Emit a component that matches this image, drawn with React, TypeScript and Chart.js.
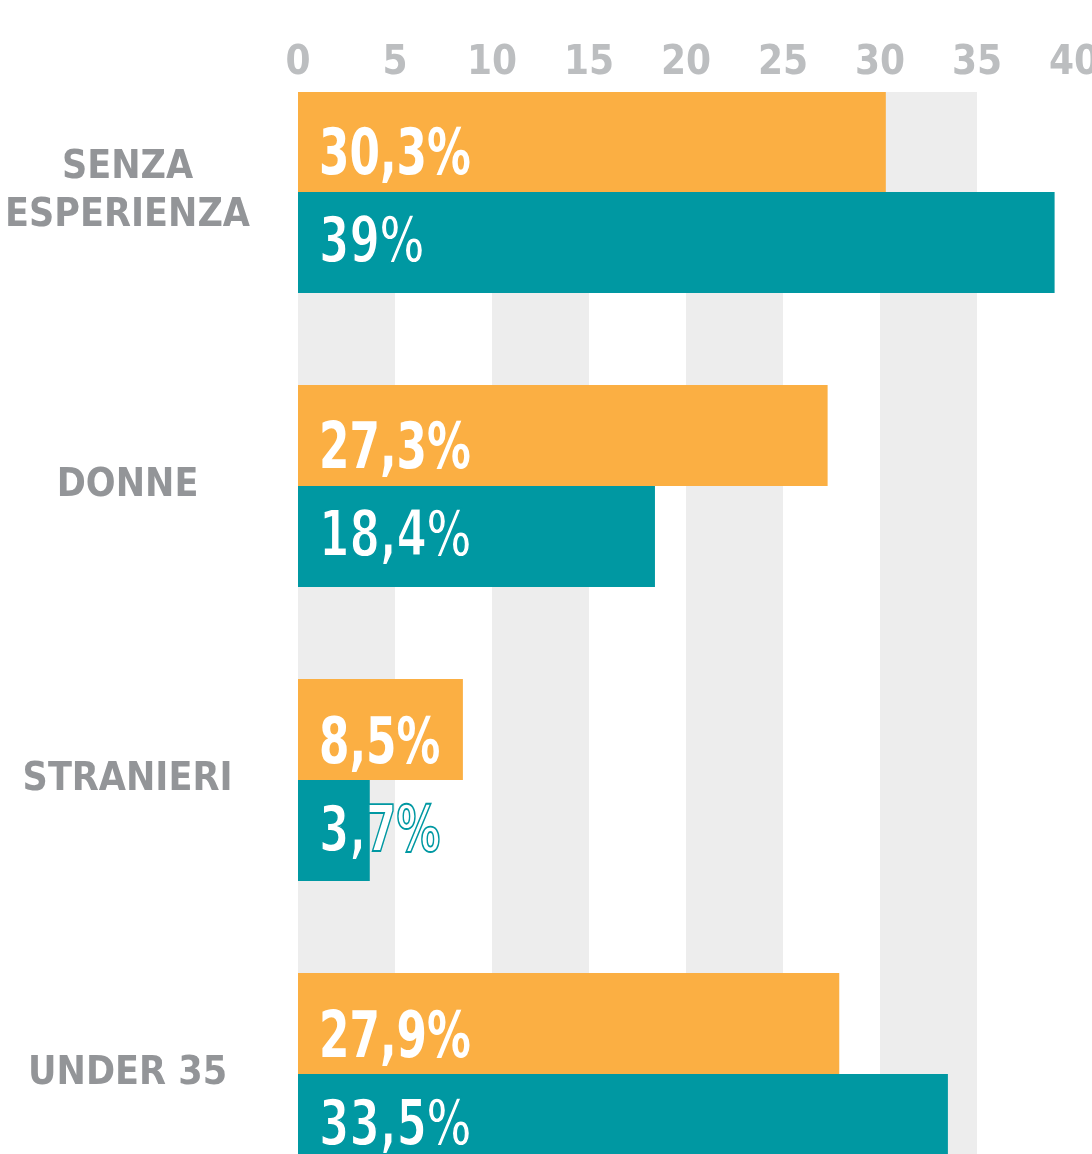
import React, { useEffect, useRef } from "react";
import { Chart, registerables } from "chart.js";
Chart.register(...registerables);

const categories: (string | string[])[] = [["SENZA", "ESPERIENZA"], "DONNE", "STRANIERI", "UNDER 35"];
const seriesOrange = [30.3, 27.3, 8.5, 27.9];
const seriesTeal = [39, 18.4, 3.7, 33.5];
const xMin = 0;
const xMax = 40;
const xStep = 5;
const bandStarts = [0, 10, 20, 30];
const bandWidth = 5;

const ORANGE = "#FBAF43";
const TEAL = "#0098A2";
const BAND = "#EDEDED";
const FONT = '"DejaVu Sans Condensed", "Roboto", sans-serif';

const fmt = (v: number) => String(v).replace(".", ",") + "%";

const bandsPlugin = {
  id: "bands",
  beforeDatasetsDraw(chart: any) {
    const { ctx, chartArea, scales } = chart;
    const x = scales.x;
    ctx.save();
    ctx.fillStyle = BAND;
    bandStarts.forEach((s) => {
      const x0 = x.getPixelForValue(s);
      const x1 = x.getPixelForValue(s + bandWidth);
      ctx.fillRect(x0, chartArea.top, x1 - x0, chartArea.bottom - chartArea.top);
    });
    ctx.restore();
  },
};

const labelsPlugin = {
  id: "valueLabels",
  afterDatasetsDraw(chart: any) {
    const { ctx } = chart;
    chart.data.datasets.forEach((ds: any, di: number) => {
      const meta = chart.getDatasetMeta(di);
      meta.data.forEach((bar: any, i: number) => {
        const v = ds.data[i].x;
        const text = fmt(v);
        const { base, y } = bar.getProps(["base", "y"], true);
        ctx.save();
        ctx.font = `bold 64px ${FONT}`;
        ctx.textAlign = "left";
        ctx.textBaseline = "alphabetic";
        const by = y + (di === 0 ? 33 : 20);
        ctx.translate(base + 21, by);
        ctx.scale(0.76, 1);
        ctx.fillStyle = "#FFFFFF";
        ctx.fillText(text, 0, 0);
        if (di === 1) {
          ctx.lineWidth = 1.8;
          ctx.strokeStyle = TEAL;
          ctx.strokeText(text, 0, 0);
        }
        ctx.restore();
      });
    });
  },
};

export default function App() {
  const ref = useRef<HTMLCanvasElement | null>(null);
  useEffect(() => {
    if (!ref.current) return;
    const chart = new Chart(ref.current, {
      type: "bar",
      data: {
        datasets: [
          {
            label: "A",
            data: seriesOrange.map((v, i) => ({ x: v, y: i })),
            backgroundColor: ORANGE,
            borderWidth: 0,
            categoryPercentage: 0.687,
            barPercentage: 1,
          },
          {
            label: "B",
            data: seriesTeal.map((v, i) => ({ x: v, y: i })),
            backgroundColor: TEAL,
            borderWidth: 0,
            categoryPercentage: 0.687,
            barPercentage: 1,
          },
        ],
      } as any,
      options: {
        indexAxis: "y",
        animation: false,
        responsive: false,
        maintainAspectRatio: false,
        devicePixelRatio: 1,
        layout: { padding: 0 },
        plugins: { legend: { display: false }, tooltip: { enabled: false } },
        scales: {
          x: {
            type: "linear",
            position: "top",
            min: xMin,
            max: xMax,
            grid: { display: false, drawTicks: false },
            border: { display: false },
            ticks: {
              stepSize: xStep,
              padding: 4,
              color: "#BCBEC0",
              font: { family: FONT, size: 40, weight: "bold" },
            },
            afterFit(scale: any) {
              scale.height = 92;
              scale.paddingRight = 18;
            },
          },
          y: {
            type: "linear",
            reverse: true,
            offset: false,
            min: -0.34,
            max: 3.272,
            grid: { display: false, drawTicks: false, offset: false },
            border: { display: false },
            afterBuildTicks(scale: any) {
              scale.ticks = categories.map((_, i) => ({ value: i }));
            },
            afterFit(scale: any) {
              scale.width = 298;
              scale.paddingTop = 0;
              scale.paddingBottom = 0;
            },
            ticks: {
              crossAlign: "center",
              padding: 48,
              color: "#939598",
              font: { family: FONT, size: 39, weight: "bold", lineHeight: 1.23 },
              callback: (value: any) => categories[value as number] ?? "",
            },
          },
        },
      } as any,
      plugins: [bandsPlugin, labelsPlugin],
    });
    return () => chart.destroy();
  }, []);
  return (
    <div style={{ position: "absolute", left: 0, top: 0, width: 1092, height: 1154, overflow: "hidden", background: "#fff" }}>
      <canvas ref={ref} width={1092} height={1154} style={{ display: "block", width: 1092, height: 1154 }} />
    </div>
  );
}
